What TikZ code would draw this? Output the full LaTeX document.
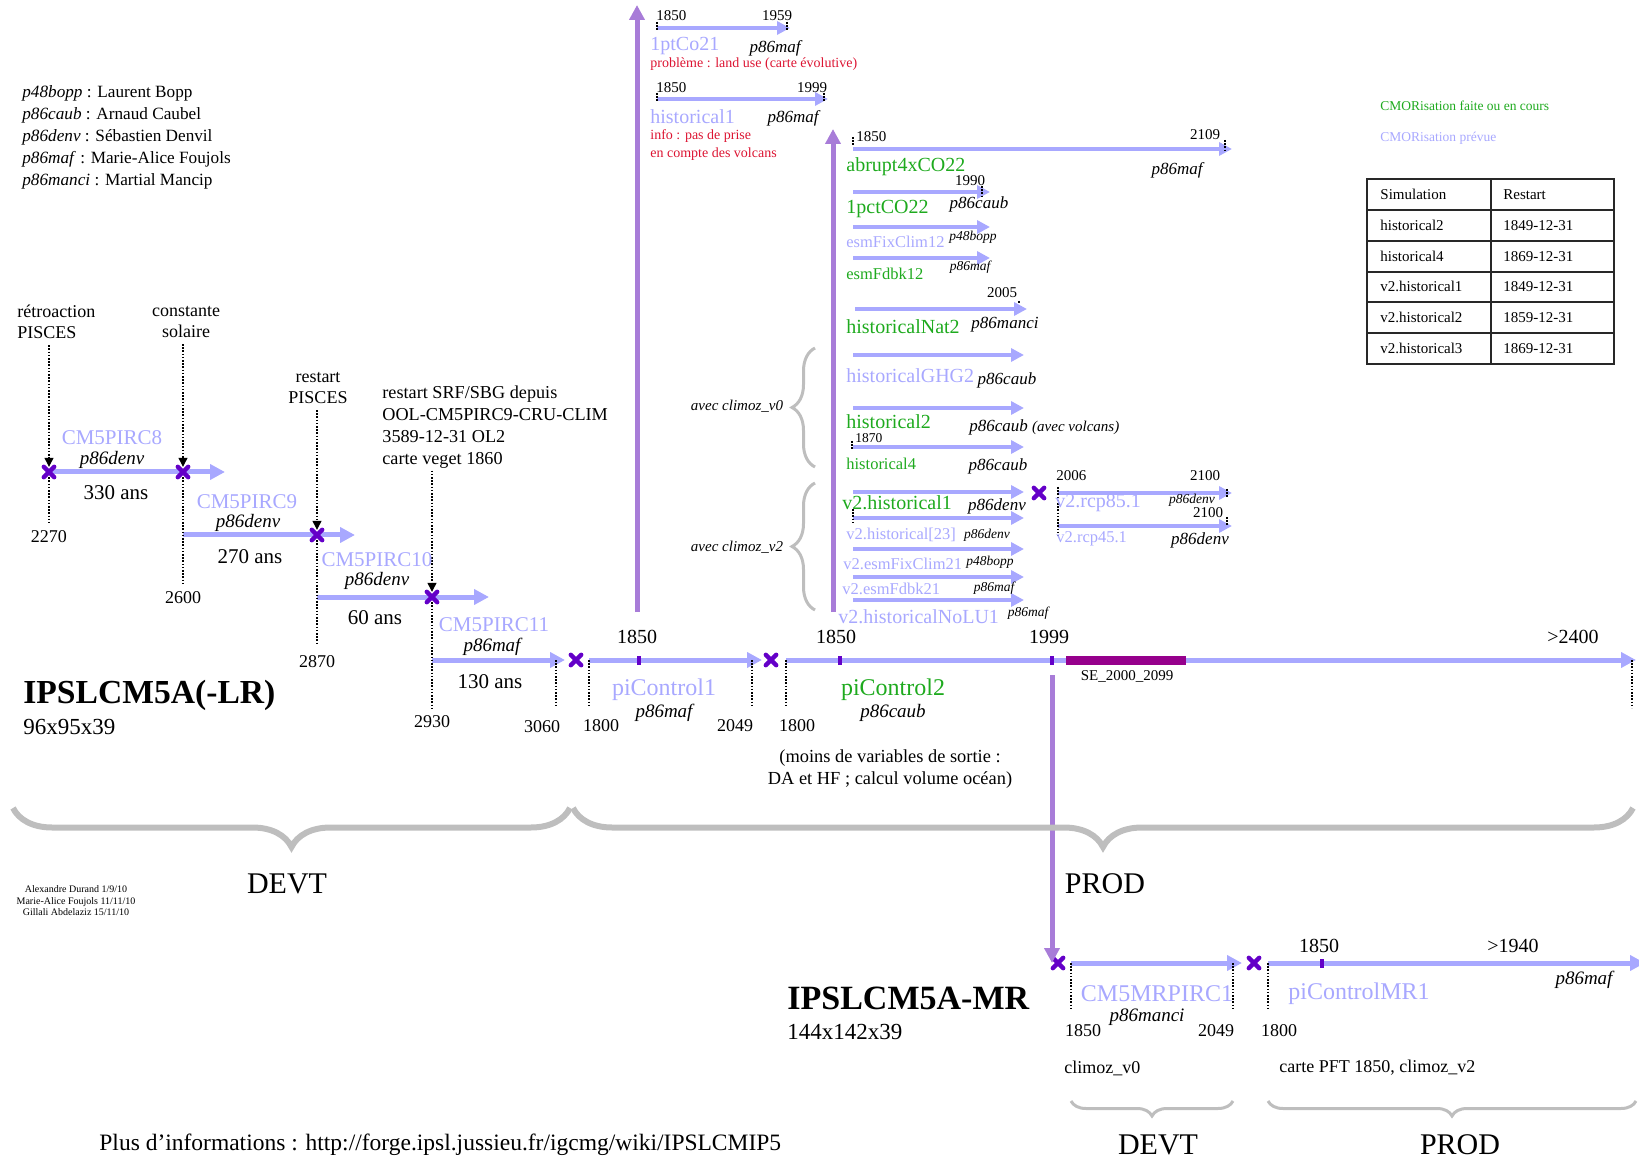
\documentclass[tikz,border=0pt]{standalone}
\usepackage{fontspec}
\setmainfont{Liberation Serif}
\usetikzlibrary{arrows.meta,shapes.misc,decorations.pathreplacing,backgrounds}

\definecolor{lav}{RGB}{168,168,255}
\definecolor{simgreen}{RGB}{30,170,30}
\definecolor{upviolet}{RGB}{168,124,216}
\definecolor{markviolet}{RGB}{100,0,200}
\definecolor{sebar}{RGB}{150,0,140}
\definecolor{notered}{RGB}{220,20,50}
\definecolor{bracegray}{RGB}{190,190,190}
\definecolor{tablegray}{RGB}{40,40,40}

\tikzset{
  lbl/.style={inner sep=0pt},
  sim/.style={lbl, font=\fontsize{10}{12}\selectfont},
  simsm/.style={lbl, font=\fontsize{8.25}{10}\selectfont},
  simrun/.style={lbl, font=\fontsize{10.5}{12}\selectfont, text=lav},
  simbig/.style={lbl, font=\fontsize{12}{14}\selectfont},
  who/.style={lbl, font=\itshape\fontsize{8.5}{10}\selectfont},
  whosm/.style={lbl, font=\itshape\fontsize{6.75}{8}\selectfont},
  whobig/.style={lbl, font=\itshape\fontsize{9.5}{11}\selectfont},
  yr/.style={lbl, font=\fontsize{7.5}{9}\selectfont},
  yrtop/.style={lbl, font=\fontsize{10}{12}\selectfont},
  yrbot/.style={lbl, font=\fontsize{9}{11}\selectfont},
  remark/.style={lbl, font=\fontsize{9}{10.5}\selectfont},
  redremark/.style={lbl, text=notered, font=\fontsize{7}{9}\selectfont, align=left},
  spanlabel/.style={lbl, font=\fontsize{10.5}{12}\selectfont},
  simarrow/.style={draw=lav, line width=2.5pt, -{Triangle[length=7.5pt,width=7.5pt]}},
  exparrow/.style={draw=lav, line width=2.25pt, -{Triangle[length=6.5pt,width=6.5pt]}},
  upline/.style={draw=upviolet, line width=2.5pt, -{Triangle[length=7.5pt,width=7.5pt]}},
  restartmark/.style={cross out, draw=markviolet, line width=2.2pt, line cap=round, minimum size=3pt, inner sep=0pt},
  yeartick/.style={fill=markviolet, minimum width=2pt, minimum height=4.5pt, inner sep=0pt},
  dotline/.style={line width=0.6pt, dash pattern=on 0.8pt off 0.8pt},
  pointer/.style={dotline, -{Triangle[length=4.5pt,width=4.5pt]}},
  bigbrace/.style={draw=bracegray, line width=3pt, decorate, decoration={brace, mirror, amplitude=19.5pt}},
  smallbrace/.style={draw=bracegray, line width=1.5pt, decorate, decoration={brace, mirror, amplitude=7.5pt}},
  sidebrace/.style={draw=bracegray, line width=1.5pt, decorate, decoration={brace, amplitude=11.5pt}},
}

\begin{document}
\begin{tikzpicture}[x=0.5pt,y=-0.5pt]
\useasboundingbox (0,0) rectangle (1639,1160);

% who is who
\foreach \login/\person [count=\i] in {p48bopp/Laurent Bopp, p86caub/Arnaud Caubel, p86denv/Sébastien Denvil, p86maf/Marie-Alice Foujols, p86manci/Martial Mancip} {
  \node[lbl, font=\fontsize{8.6}{10}\selectfont, anchor=west] (login\i) at (22,{93+22.2*(\i-1)}) {\textit{\login} : \person};
}

% CMOR legend and restart table
\node[lbl, font=\fontsize{6.75}{8}\selectfont, text=simgreen, anchor=west] (cmordone) at (1380,106) {CMORisation faite ou en cours};
\node[lbl, font=\fontsize{6.75}{8}\selectfont, text=lav, anchor=west] (cmorplan) at (1380,138) {CMORisation prévue};
\draw[tablegray, line width=1pt] (1367,179) rectangle (1614,364);
\draw[tablegray, line width=1pt] (1491,179) -- (1491,364);
\foreach \y in {210,241,272,302,333} {
  \draw[tablegray, line width=1pt] (1367,\y) -- (1614,\y);
}
\foreach \sim/\rst [count=\i] in {Simulation/Restart, historical2/1849-12-31, historical4/1869-12-31, v2.historical1/1849-12-31, v2.historical2/1859-12-31, v2.historical3/1869-12-31} {
  \node[lbl, font=\fontsize{7.5}{9}\selectfont, anchor=west] (sim\i) at (1380,{194.5+30.8*(\i-1)}) {\sim};
  \node[lbl, font=\fontsize{7.5}{9}\selectfont, anchor=west] (rst\i) at (1503,{194.5+30.8*(\i-1)}) {\rst};
}

% restart marks and year ticks
\node[restartmark] (x1) at (49,472) {};
\node[restartmark] (x2) at (183,472) {};
\node[restartmark] (x3) at (317,535) {};
\node[restartmark] (x4) at (432,597) {};
\node[restartmark] (x5) at (576,660) {};
\node[restartmark] (x6) at (771,660) {};
\node[restartmark] (x7) at (1039,493) {};
\node[restartmark] (x8) at (1058,963) {};
\node[restartmark] (x9) at (1254,963) {};
\node[yeartick] (t1850a) at (639,660) {};
\node[yeartick] (t1850b) at (840,660) {};
\node[yeartick] (t1999) at (1052,660) {};
\node[yeartick] (t1850mr) at (1322,963) {};
\node[fill=sebar, minimum width=60pt, minimum height=4.5pt, inner sep=0pt] (se) at (1126,660) {};

% run end points
\coordinate (c8end) at (225,472);
\coordinate (c9end) at (355,535);
\coordinate (c10end) at (489,597);
\coordinate (c11end) at (565,660);
\coordinate (pc1s) at (589,660);
\coordinate (pc1e) at (762,660);
\coordinate (pc2s) at (786,660);
\coordinate (pc2e) at (1636,660);
\coordinate (mr1s) at (1071,963);
\coordinate (mr1e) at (1242,963);
\coordinate (mr2s) at (1268,963);
\coordinate (mr2e) at (1645,963);
\coordinate (up1base) at (637,612);
\coordinate (up1top) at (637,5);
\coordinate (up2base) at (833,612);
\coordinate (up2top) at (833,129);
\coordinate (down0) at (1052,675);

\begin{scope}[on background layer]
  \draw[simarrow] (x1.center) -- (c8end);
  \draw[simarrow] (x2 |- x3) -- (c9end);
  \draw[simarrow] (x3 |- x4) -- (c10end);
  \draw[simarrow] (x4 |- x5) -- (c11end);
  \draw[simarrow] (pc1s) -- (pc1e);
  \draw[simarrow] (pc2s) -- (pc2e);
  \draw[simarrow] (mr1s) -- (mr1e);
  \draw[simarrow] (mr2s) -- (mr2e);
\end{scope}

\draw[upline] (up1base) -- (up1top);
\draw[upline] (up2base) -- (up2top);
\draw[upline] (down0) -- (down0 |- x8);

% experiments from 1850
\foreach \id/\xa/\ya/\xb in {co21/657/28/790, hist1/657/99/828, abr/853/149/1232, pct/853/192/990, fix12/853/227/990, fdbk12/853/258/990, nat2/855/309/1027, ghg2/853/355/1024, hist2/853/408/1024, hist4/853/447/1024, v2h1/853/492/1024, v2h23/853/518/1024, v2fix/853/549/1024, v2fdbk/853/577/1024, v2nolu/853/600/1024, rcp85/1058/493/1232, rcp45/1058/526/1232} {
  \coordinate (\id-s) at (\xa,\ya);
  \coordinate (\id-e) at (\xb,\ya);
  \draw[exparrow] (\id-s) -- (\id-e);
}

% start and end marks
\foreach \x/\ya/\yb in {657/22/31, 787/22/31, 657/93/102, 824/93/102, 853/137/146, 1225/140/150, 982/186/196, 1019/301/304, 852/441/450, 853/509/524, 1058/487/536, 1227/489/498, 1227/517/525, 556/660/707, 589/660/707, 752/660/707, 786/660/707, 1632/660/708, 1071/963/1010, 1233/963/1010, 1268/963/1010} {
  \draw[dotline] (\x,\ya) -- (\x,\yb);
}

% LR chain
\node[remark, align=left, anchor=west] (retro) at (17,322) {rétroaction\\PISCES};
\node[remark, align=center] (solar) at (186,322) {constante\\solaire};
\node[remark, align=center] (rpisces) at (318,388) {restart\\PISCES};
\node[remark, align=left, anchor=west, font=\fontsize{9.1}{11}\selectfont] (rsrf) at (382,427) {restart SRF/SBG depuis\\OOL-CM5PIRC9-CRU-CLIM\\3589-12-31 OL2\\carte veget 1860};
\draw[pointer, shorten <=3pt] (retro.south -| x1) -- (x1.north);
\draw[pointer, shorten <=3pt] (solar.south -| x2) -- (x2.north);
\draw[pointer, shorten <=3pt] (rpisces.south -| x3) -- (x3.north);
\draw[pointer, shorten <=1pt] (rsrf.south -| x4) -- (x4.north);

\node[yrbot] (y2270) at (49,537) {2270};
\node[yrbot] (y2600) at (183,598) {2600};
\node[yrbot] (y2870) at (317,662) {2870};
\node[yrbot] (y2930) at (432,722) {2930};
\node[yrbot] (y3060) at (542,727) {3060};
\draw[dotline, shorten >=4pt] (x1.south) -- (y2270.north);
\draw[dotline, shorten >=4pt] (x2.south) -- (y2600.north);
\draw[dotline, shorten >=5pt] (x3.south) -- (y2870.north);
\draw[dotline, shorten >=3pt] (x4.south) -- (y2930.north);

\node[simrun] (c8) at (112,438) {CM5PIRC8};
\node[whobig] (c8who) at (112,460) {p86denv};
\node[spanlabel] (c8len) at (116,493) {330 ans};
\node[simrun] (c9) at (247,502) {CM5PIRC9};
\node[whobig] (c9who) at (248,523) {p86denv};
\node[spanlabel] (c9len) at (250,557) {270 ans};
\node[simrun] (c10) at (377,560) {CM5PIRC10};
\node[whobig] (c10who) at (377,581) {p86denv};
\node[spanlabel] (c10len) at (375,618) {60 ans};
\node[simrun] (c11) at (494,625) {CM5PIRC11};
\node[whobig] (c11who) at (492,647) {p86maf};
\node[spanlabel] (c11len) at (490,682) {130 ans};

\node[lbl, font=\bfseries\fontsize{16.8}{20}\selectfont, anchor=west] (lr) at (23,695) {IPSLCM5A(-LR)};
\node[lbl, font=\fontsize{11.5}{13}\selectfont, anchor=west] (lrgrid) at (23,727) {96x95x39};

% piControl runs
\node[yrtop] (y1850a) at (637,637) {1850};
\node[yrbot] (y1800a) at (601,726) {1800};
\node[yrbot] (y2049a) at (735,726) {2049};
\node[simbig, text=lav] (pc1) at (664,690) {piControl1};
\node[whobig] (pc1who) at (664,713) {p86maf};
\node[yrtop] (y1850b) at (836,637) {1850};
\node[yrbot] (y1800b) at (797,726) {1800};
\node[simbig, text=simgreen] (pc2) at (893,690) {piControl2};
\node[whobig] (pc2who) at (893,713) {p86caub};
\node[remark, align=center, font=\fontsize{9.2}{11}\selectfont] (pc2note) at (890,769) {(moins de variables de sortie :\\DA et HF ; calcul volume océan)};
\node[yrtop] (y1999) at (1049,637) {1999};
\node[yr] (selbl) at (1127,676) {SE\_2000\_2099};
\node[yrtop] (y2400) at (1573,637) {>2400};

% experiments from piControl1
\node[yr, anchor=west] (co21y1) at (656,16) {1850};
\node[yr] (co21y2) at (777,16) {1959};
\node[sim, text=lav, anchor=west] (co21) at (650,46) {1ptCo21};
\node[who] (co21who) at (775,48) {p86maf};
\node[redremark, anchor=west] (co21note) at (650,64) {problème : land use (carte évolutive)};
\node[yr, anchor=west] (hist1y1) at (656,88) {1850};
\node[yr] (hist1y2) at (812,88) {1999};
\node[sim, text=lav, anchor=west] (hist1) at (650,117) {historical1};
\node[who] (hist1who) at (793,118) {p86maf};
\node[redremark, anchor=west] (hist1note) at (650,145) {info : pas de prise\\en compte des volcans};

% experiments from piControl2
\node[yr, anchor=west] (abry1) at (856,137) {1850};
\node[yr] (abry2) at (1205,135) {2109};
\node[sim, text=simgreen, anchor=west] (abr) at (846,167) {abrupt4xCO22};
\node[who] (abrwho) at (1177,170) {p86maf};
\node[yr] (pcty) at (970,181) {1990};
\node[sim, text=simgreen, anchor=west] (pct) at (846,209) {1pctCO22};
\node[who] (pctwho) at (979,204) {p86caub};
\node[simsm, text=lav, anchor=west] (fix12) at (846,242) {esmFixClim12};
\node[whosm] (fix12who) at (973,237) {p48bopp};
\node[simsm, text=simgreen, anchor=west] (fdbk12) at (846,274) {esmFdbk12};
\node[whosm] (fdbk12who) at (970,267) {p86maf};
\node[yr] (nat2y) at (1002,293) {2005};
\node[sim, text=simgreen, anchor=west] (nat2) at (846,327) {historicalNat2};
\node[who] (nat2who) at (1005,325) {p86manci};
\node[sim, text=lav, anchor=west] (ghg2) at (846,376) {historicalGHG2};
\node[who] (ghg2who) at (1007,380) {p86caub};
\node[sim, text=simgreen, anchor=west] (hist2) at (846,422) {historical2};
\node[who, anchor=west] (hist2who) at (969,427) {p86caub {\fontsize{7.5}{9}\selectfont (avec volcans)}};
\node[lbl, font=\fontsize{6.75}{8}\selectfont, anchor=west] (hist4y) at (855,438) {1870};
\node[simsm, text=simgreen, anchor=west] (hist4) at (846,464) {historical4};
\node[who] (hist4who) at (998,466) {p86caub};
\node[sim, text=simgreen, anchor=west] (v2h1) at (842,503) {v2.historical1};
\node[who] (v2h1who) at (997,506) {p86denv};
\node[simsm, text=lav, anchor=west] (v2h23) at (846,535) {v2.historical[23]};
\node[whosm] (v2h23who) at (987,535) {p86denv};
\node[simsm, text=lav, anchor=west] (v2fix) at (843,564) {v2.esmFixClim21};
\node[whosm] (v2fixwho) at (990,562) {p48bopp};
\node[simsm, text=lav, anchor=west] (v2fdbk) at (842,589) {v2.esmFdbk21};
\node[whosm] (v2fdbkwho) at (994,588) {p86maf};
\node[sim, text=lav, anchor=west] (v2nolu) at (838,617) {v2.historicalNoLU1};
\node[whosm] (v2noluwho) at (1028,613) {p86maf};

% scenarios
\node[yr, anchor=west] (rcpy1) at (1056,476) {2006};
\node[yr] (rcp85y2) at (1205,476) {2100};
\node[sim, text=lav, anchor=west] (rcp85) at (1055,503) {v2.rcp85.1};
\node[whosm] (rcp85who) at (1192,500) {p86denv};
\node[yr] (rcp45y2) at (1208,513) {2100};
\node[simsm, text=lav, anchor=west] (rcp45) at (1056,539) {v2.rcp45.1};
\node[who] (rcp45who) at (1200,540) {p86denv};

% climoz braces
\draw[sidebrace] (815,467) -- (815,348);
\draw[sidebrace] (815,610) -- (815,483);
\node[lbl, font=\itshape\fontsize{7.5}{9}\selectfont] (climoz0) at (737,406) {avec climoz\_v0};
\node[lbl, font=\itshape\fontsize{7.5}{9}\selectfont] (climoz2) at (737,547) {avec climoz\_v2};

% devt / prod
\draw[bigbrace] (13,808) -- (570,808);
\draw[bigbrace] (573,808) -- (1633,808);
\node[lbl, font=\fontsize{15}{18}\selectfont] (devt) at (287,884) {DEVT};
\node[lbl, font=\fontsize{15}{18}\selectfont] (prod) at (1105,884) {PROD};
\node[lbl, font=\fontsize{5}{5.75}\selectfont, align=center] (credits) at (76,901) {Alexandre Durand 1/9/10\\Marie-Alice Foujols 11/11/10\\Gillali Abdelaziz 15/11/10};

% MR
\node[lbl, font=\bfseries\fontsize{17}{20}\selectfont, anchor=west] (mr) at (787,998) {IPSLCM5A-MR};
\node[lbl, font=\fontsize{11.5}{13}\selectfont, anchor=west] (mrgrid) at (787,1032) {144x142x39};
\node[simbig, text=lav] (mrpirc) at (1157,994) {CM5MRPIRC1};
\node[whobig] (mrpircwho) at (1147,1017) {p86manci};
\node[yrbot] (y1850mr) at (1083,1031) {1850};
\node[yrbot] (y2049mr) at (1216,1031) {2049};
\node[yrbot] (y1800mr) at (1279,1031) {1800};
\node[yrtop] (y1850mrtop) at (1319,946) {1850};
\node[yrtop] (y1940) at (1513,946) {>1940};
\node[simbig, text=lav] (pcmr) at (1359,994) {piControlMR1};
\node[whobig] (pcmrwho) at (1584,980) {p86maf};
\node[yrbot, anchor=west] (mrnote1) at (1064,1068) {climoz\_v0};
\node[yrbot, anchor=west] (mrnote2) at (1279,1068) {carte PFT 1850, climoz\_v2};
\draw[smallbrace] (1071,1101) -- (1233,1101);
\draw[smallbrace] (1268,1101) -- (1636,1101);
\node[lbl, font=\fontsize{15}{18}\selectfont] (mrdevt) at (1158,1145) {DEVT};
\node[lbl, font=\fontsize{15}{18}\selectfont] (mrprod) at (1460,1145) {PROD};

\node[lbl, font=\fontsize{11.75}{14}\selectfont, anchor=west] (more) at (99,1145) {Plus d’informations : http://forge.ipsl.jussieu.fr/igcmg/wiki/IPSLCMIP5};
\end{tikzpicture}
\end{document}
